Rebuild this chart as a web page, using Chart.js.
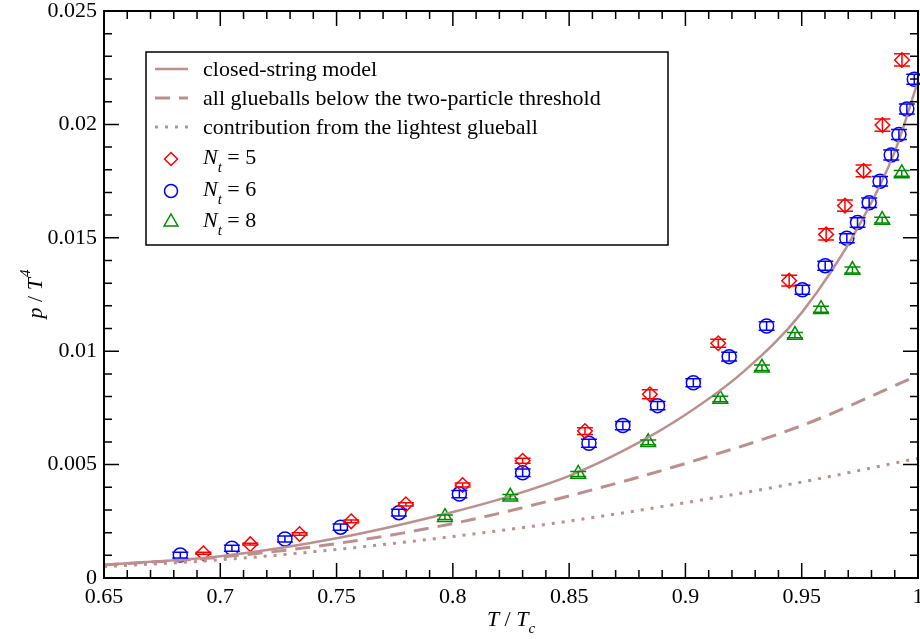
<!DOCTYPE html>
<html>
<head>
<meta charset="utf-8">
<title>p/T^4 vs T/Tc</title>
<script src="https://cdn.jsdelivr.net/npm/chart.js@4.4.1/dist/chart.umd.min.js"></script>
<style>
  html, body { margin: 0; padding: 0; background: #fff; }
</style>
</head>
<body>
<canvas id="pressure" width="920" height="639"></canvas>
<script>
// lattice data, N_t = 5
const nt5T = [0.6927, 0.7129, 0.7341, 0.7563, 0.7798, 0.8042, 0.8300, 0.8568, 0.8847, 0.9141, 0.9446, 0.9605, 0.9686, 0.9766, 0.9847, 0.9931];
const nt5P = [0.00109, 0.00149, 0.00194, 0.00250, 0.00325, 0.00410, 0.00517, 0.00648, 0.00810, 0.01035, 0.01311, 0.01515, 0.01642, 0.01795, 0.01997, 0.02284];
const nt5Err = [0.00004, 0.00004, 0.00005, 0.00006, 0.00007, 0.00009, 0.00011, 0.00015, 0.00020, 0.00018, 0.00024, 0.00025, 0.00025, 0.00026, 0.00027, 0.00027];

// N_t = 6
const nt6T = [0.6828, 0.7050, 0.7278, 0.7517, 0.7768, 0.8028, 0.8300, 0.8585, 0.8731, 0.8880, 0.9034, 0.9188, 0.9349, 0.9503, 0.9601, 0.9694, 0.9740, 0.9790, 0.9837, 0.9885, 0.9918, 0.9952, 0.9984];
const nt6P = [0.00101, 0.00131, 0.00172, 0.00224, 0.00288, 0.00370, 0.00464, 0.00594, 0.00672, 0.00760, 0.00861, 0.00976, 0.01111, 0.01271, 0.01377, 0.01498, 0.01567, 0.01655, 0.01749, 0.01865, 0.01955, 0.02068, 0.02199];
const nt6Err = [0.00013, 0.00013, 0.00013, 0.00014, 0.00015, 0.00016, 0.00017, 0.00018, 0.00018, 0.00018, 0.00018, 0.00019, 0.00019, 0.00020, 0.00020, 0.00020, 0.00021, 0.00021, 0.00021, 0.00022, 0.00022, 0.00022, 0.00022];

// N_t = 8
const nt8T = [0.7966, 0.8247, 0.8539, 0.8840, 0.9150, 0.9329, 0.9471, 0.9583, 0.9718, 0.9846, 0.9930];
const nt8P = [0.00268, 0.00358, 0.00459, 0.00598, 0.00789, 0.00927, 0.01071, 0.01185, 0.01358, 0.01578, 0.01784];
const nt8Err = [0.00010, 0.00010, 0.00011, 0.00011, 0.00012, 0.00012, 0.00012, 0.00013, 0.00013, 0.00013, 0.00013];

// model curves
const stringT = [0.65, 0.70, 0.75, 0.80, 0.825, 0.85, 0.875, 0.90, 0.925, 0.95, 0.975, 0.99, 1.00];
const stringModel = [0.00058, 0.00096, 0.00175, 0.00291, 0.00362, 0.00450, 0.00570, 0.00720, 0.00910, 0.01170, 0.01560, 0.01880, 0.02190];
const glueT = [0.65, 0.70, 0.75, 0.80, 0.85, 0.90, 0.95, 1.00];
const allGlueballs = [0.00057, 0.00092, 0.00152, 0.00240, 0.00362, 0.00505, 0.00672, 0.00893];
const lightestGlueball = [0.00050, 0.00080, 0.00126, 0.00183, 0.00251, 0.00332, 0.00423, 0.00528];

const xTicks = [0.65, 0.7, 0.75, 0.8, 0.85, 0.9, 0.95, 1];
const yTicks = [0, 0.005, 0.01, 0.015, 0.02, 0.025];

const FONT = "'Liberation Serif', 'DejaVu Serif', serif";
const curveColor = '#bc8f8f';

const pts = (xs, ys) => xs.map((x, i) => ({ x: x, y: ys[i] }));

// draw a marker the way the legend needs it
function marker(ctx, style, x, y, r) {
  ctx.beginPath();
  if (style === 'circle') {
    ctx.arc(x, y, r, 0, Math.PI * 2);
  } else if (style === 'rectRot') {
    ctx.moveTo(x - r, y); ctx.lineTo(x, y - r); ctx.lineTo(x + r, y); ctx.lineTo(x, y + r);
    ctx.closePath();
  } else {
    ctx.moveTo(x, y - r);
    ctx.lineTo(x + r * 0.866, y + r / 2);
    ctx.lineTo(x - r * 0.866, y + r / 2);
    ctx.closePath();
  }
  ctx.stroke();
}

// error bars with caps, in data units
const errorBars = {
  id: 'errorBars',
  afterDatasetsDraw(chart) {
    const { ctx, scales: { x, y } } = chart;
    ctx.save();
    chart.data.datasets.forEach(ds => {
      if (!ds.errors) return;
      ctx.strokeStyle = ds.borderColor;
      ctx.lineWidth = 1.5;
      ds.data.forEach((p, i) => {
        const px = x.getPixelForValue(p.x);
        const top = y.getPixelForValue(p.y + ds.errors[i]);
        const bot = y.getPixelForValue(p.y - ds.errors[i]);
        ctx.beginPath();
        ctx.moveTo(px, top); ctx.lineTo(px, bot);
        ctx.moveTo(px - 8, top); ctx.lineTo(px + 8, top);
        ctx.moveTo(px - 8, bot); ctx.lineTo(px + 8, bot);
        ctx.stroke();
      });
    });
    ctx.restore();
  }
};

// inward ticks on all four sides, frame, axis titles and legend box
const frame = {
  id: 'frame',
  afterDraw(chart) {
    const { ctx, chartArea: a, scales: { x, y } } = chart;
    ctx.save();
    ctx.strokeStyle = '#000';
    ctx.lineWidth = 1.5;
    ctx.beginPath();
    for (let i = 0; i <= 35; i++) {
      const px = x.getPixelForValue(0.65 + i * 0.01);
      const len = i % 5 === 0 ? 15 : 8;
      ctx.moveTo(px, a.bottom); ctx.lineTo(px, a.bottom - len);
      ctx.moveTo(px, a.top); ctx.lineTo(px, a.top + len);
    }
    for (let i = 0; i <= 25; i++) {
      const py = y.getPixelForValue(i * 0.001);
      const len = i % 5 === 0 ? 15 : 8;
      ctx.moveTo(a.left, py); ctx.lineTo(a.left + len, py);
      ctx.moveTo(a.right, py); ctx.lineTo(a.right - len, py);
    }
    ctx.stroke();
    ctx.lineWidth = 2;
    ctx.strokeRect(a.left, a.top, a.right - a.left, a.bottom - a.top);

    // axis titles
    ctx.fillStyle = '#000';
    ctx.textBaseline = 'alphabetic';
    const big = 'italic 22px ' + FONT, up = '22px ' + FONT, small = 'italic 15px ' + FONT;
    ctx.font = big; const wT = ctx.measureText('T').width;
    ctx.font = up; const wS = ctx.measureText(' / ').width;
    ctx.font = small; const wc = ctx.measureText('c').width;
    let cx = (a.left + a.right) / 2 - (2 * wT + wS + wc) / 2;
    const by = 626;
    ctx.font = big; ctx.fillText('T', cx, by); cx += wT;
    ctx.font = up; ctx.fillText(' / ', cx, by); cx += wS;
    ctx.font = big; ctx.fillText('T', cx, by); cx += wT;
    ctx.font = small; ctx.fillText('c', cx, by + 7);

    ctx.save();
    ctx.translate(42, (a.top + a.bottom) / 2);
    ctx.rotate(-Math.PI / 2);
    ctx.font = big; const wp = ctx.measureText('p').width;
    ctx.font = small; const w4 = ctx.measureText('4').width;
    let ty = -(wp + wS + wT + w4) / 2;
    ctx.font = big; ctx.fillText('p', ty, 0); ty += wp;
    ctx.font = up; ctx.fillText(' / ', ty, 0); ty += wS;
    ctx.font = big; ctx.fillText('T', ty, 0); ty += wT;
    ctx.font = 'italic 15px ' + FONT; ctx.fillText('4', ty + 1, -12);
    ctx.restore();

    // legend
    ctx.fillStyle = '#fff';
    ctx.fillRect(146, 52, 522, 193);
    ctx.lineWidth = 1.5;
    ctx.strokeRect(146, 52, 522, 193);
    const rows = [69, 98, 127, 159, 191, 222];
    chart.data.datasets.forEach((ds, i) => {
      const ry = rows[i];
      ctx.strokeStyle = ds.borderColor;
      if (ds.showLine) {
        ctx.lineWidth = ds.borderWidth;
        ctx.setLineDash(ds.borderDash || []);
        ctx.beginPath();
        ctx.moveTo(155, ry); ctx.lineTo(188, ry);
        ctx.stroke();
        ctx.setLineDash([]);
        ctx.fillStyle = '#000';
        ctx.font = up;
        ctx.fillText(ds.label, 203, ry + 7);
      } else {
        ctx.lineWidth = 1.5;
        marker(ctx, ds.pointStyle, 171, ry, ds.pointStyle === 'triangle' ? 8 : 6.5);
        ctx.fillStyle = '#000';
        let tx = 203;
        ctx.font = big; ctx.fillText('N', tx, ry + 5); tx += ctx.measureText('N').width;
        ctx.font = small; ctx.fillText('t', tx, ry + 13); tx += ctx.measureText('t').width;
        ctx.font = up; ctx.fillText(' = ' + ds.label.split('= ')[1], tx, ry + 5);
      }
    });
    ctx.restore();
  }
};

new Chart(document.getElementById('pressure'), {
  type: 'scatter',
  data: {
    datasets: [
      { label: 'closed-string model', data: pts(stringT, stringModel), showLine: true,
        borderColor: curveColor, borderWidth: 2.5, pointRadius: 0, cubicInterpolationMode: 'monotone' },
      { label: 'all glueballs below the two-particle threshold', data: pts(glueT, allGlueballs), showLine: true,
        borderColor: curveColor, borderWidth: 3, borderDash: [15, 9], pointRadius: 0, cubicInterpolationMode: 'monotone' },
      { label: 'contribution from the lightest glueball', data: pts(glueT, lightestGlueball), showLine: true,
        borderColor: curveColor, borderWidth: 3, borderDash: [3, 7], pointRadius: 0, cubicInterpolationMode: 'monotone' },
      { label: 'N_t = 5', data: pts(nt5T, nt5P), errors: nt5Err, pointStyle: 'rectRot', pointRadius: 7.3,
        borderColor: '#ff0000', backgroundColor: 'rgba(0,0,0,0)', pointBorderWidth: 1.5, clip: false },
      { label: 'N_t = 6', data: pts(nt6T, nt6P), errors: nt6Err, pointStyle: 'circle', pointRadius: 7,
        borderColor: '#0000ff', backgroundColor: 'rgba(0,0,0,0)', pointBorderWidth: 1.5, clip: false },
      { label: 'N_t = 8', data: pts(nt8T, nt8P), errors: nt8Err, pointStyle: 'triangle', pointRadius: 8.5,
        borderColor: '#008c00', backgroundColor: 'rgba(0,0,0,0)', pointBorderWidth: 1.5, clip: false }
    ]
  },
  options: {
    responsive: false,
    animation: false,
    devicePixelRatio: 1,
    layout: { autoPadding: false, padding: { top: 11, right: 2, left: 0, bottom: 0 } },
    plugins: { legend: { display: false }, tooltip: { enabled: false } },
    scales: {
      x: {
        type: 'linear', min: 0.65, max: 1,
        afterFit: s => { s.height = 61; s.paddingLeft = 0; s.paddingRight = 0; },
        afterBuildTicks: s => { s.ticks = xTicks.map(v => ({ value: v })); },
        grid: { display: false, drawTicks: false },
        border: { display: false },
        ticks: { padding: 6, color: '#000', font: { family: FONT, size: 22 }, maxRotation: 0,
          callback: v => String(+v.toFixed(2)) }
      },
      y: {
        type: 'linear', min: 0, max: 0.025,
        afterFit: s => { s.width = 104; s.paddingTop = 0; s.paddingBottom = 0; },
        afterBuildTicks: s => { s.ticks = yTicks.map(v => ({ value: v })); },
        grid: { display: false, drawTicks: false },
        border: { display: false },
        ticks: { padding: 7, color: '#000', font: { family: FONT, size: 22 },
          callback: v => String(+v.toFixed(3)) }
      }
    }
  },
  plugins: [errorBars, frame]
});
</script>
</body>
</html>
